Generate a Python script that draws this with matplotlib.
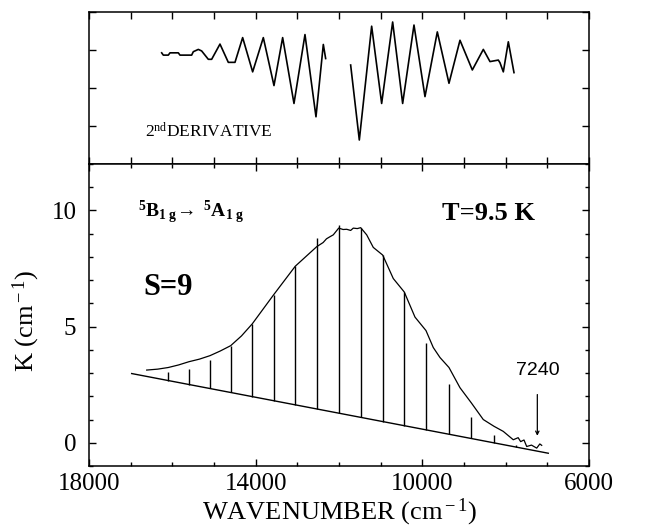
"""Absorption band with vibronic progression and its 2nd derivative."""

import numpy as np
import matplotlib
matplotlib.use("Agg")
import matplotlib.pyplot as plt
from matplotlib.ticker import MultipleLocator, NullFormatter, FixedLocator

# measured band, K in cm^-1
spec_wn = [16615, 16350, 16097, 15850, 15600, 15350, 15096, 14850, 14599, 14340,
           14081, 13577, 13049, 12535, 12380,
           12300, 12216, 12137, 12007, 11900, 11815, 11720, 11657, 11560, 11479,
           11335, 11177, 10951, 10697, 10433, 10176, 9912, 9737, 9576, 9360,
           9096, 8825, 8537, 8280, 8057, 7817, 7700, 7640, 7560, 7495, 7380,
           7255, 7180, 7135]
spec_k = [3.13, 3.17, 3.24, 3.35, 3.49, 3.60, 3.75, 3.95, 4.18, 4.60,
          5.12, 6.35, 7.60, 8.44, 8.62,
          8.78, 8.87, 8.95, 9.24, 9.18, 9.19, 9.14, 9.24, 9.22, 9.26,
          8.95, 8.41, 8.08, 7.07, 6.49, 5.41, 4.83, 4.10, 3.67, 3.24,
          2.37, 1.72, 1.00, 0.71, 0.49, 0.13, 0.22, 0.05, 0.12, -0.16, -0.10,
          -0.23, -0.05, -0.11]

# sloping background line
base_wn = [16975, 6977]
base_k = [2.98, -0.45]

# progression sticks (height above the background)
stick_wn = [16100, 15600, 15100, 14600, 14080, 13570, 13050, 12520, 12010,
            11480, 10950, 10430, 9910, 9360, 8830, 8280, 7740]
stick_h = [0.38, 0.68, 1.23, 2.02, 3.13, 4.54, 5.97, 7.35, 8.10,
           8.14, 7.16, 5.75, 3.76, 2.15, 0.92, 0.32, 0.08]

# 2nd derivative trace (arbitrary units), two pieces
d2_wn_a = [16255, 16216, 16096, 16056, 15856, 15816, 15536, 15496, 15376, 15296,
           15136, 15056, 14856, 14656, 14496, 14312, 14072, 13816, 13560, 13352,
           13080, 12816, 12552, 12376, 12320]
d2_a = [2.92, 2.86, 2.86, 2.92, 2.92, 2.86, 2.86, 2.95, 3.01, 2.97,
        2.75, 2.75, 3.15, 2.67, 2.67, 3.32, 2.42, 3.32, 2.06, 3.32,
        1.59, 3.40, 1.24, 3.14, 2.77]
d2_wn_b = [11720, 11512, 11216, 10976, 10712, 10472, 10200, 9936, 9640, 9360,
           9096, 8800, 8536, 8376, 8176, 8136, 8056, 7936, 7800]
d2_b = [2.60, 0.63, 3.62, 1.59, 3.73, 1.59, 3.65, 1.77, 3.47, 2.12,
        3.25, 2.47, 3.01, 2.69, 2.73, 2.66, 2.42, 3.21, 2.40]

x_labels = [18000, 14000, 10000, 6000]

plt.rcParams['font.family'] = ['Liberation Serif', 'DejaVu Serif']
plt.rcParams['mathtext.fontset'] = 'custom'
plt.rcParams['mathtext.rm'] = 'Liberation Serif'
plt.rcParams['mathtext.it'] = 'Liberation Serif:italic'
plt.rcParams['mathtext.bf'] = 'Liberation Serif:bold'

fig = plt.figure(figsize=(6.65, 5.28), dpi=100)
ax_top = fig.add_axes([0.1338, 0.6894, 0.7519, 0.2884])
ax = fig.add_axes([0.1338, 0.1174, 0.7519, 0.5720])


def style_axes(a):
    for s in a.spines.values():
        s.set_linewidth(1.1)
    a.tick_params(which='both', direction='in', top=True, right=True, width=1.0)
    a.tick_params(which='major', length=5)
    a.tick_params(which='minor', length=3)
    a.set_xlim(18000, 6000)


# top panel
style_axes(ax_top)
ax_top.plot(d2_wn_a, d2_a, color='black', lw=1.2)
ax_top.plot(d2_wn_b, d2_b, color='black', lw=1.2)
ax_top.set_ylim(0, 4)
ax_top.yaxis.set_major_locator(MultipleLocator(1))
ax_top.xaxis.set_major_locator(MultipleLocator(1000))
ax_top.xaxis.set_major_formatter(NullFormatter())
ax_top.yaxis.set_major_formatter(NullFormatter())
ax_top.text(16656, 0.84, r"2$^{\rm nd}$DERIVATIVE", fontsize=12.5, va='center', ha='left')

# bottom panel
style_axes(ax)
ax.plot(spec_wn, spec_k, color='black', lw=0.9)
ax.plot(base_wn, base_k, color='black', lw=1.0)
stick_base = np.interp(stick_wn, base_wn[::-1], base_k[::-1])
ax.vlines(stick_wn, stick_base, stick_base + np.array(stick_h), color='black', lw=1.0)

ax.set_ylim(-1, 12)
ax.xaxis.set_major_locator(FixedLocator(x_labels))
ax.xaxis.set_minor_locator(MultipleLocator(1000))
ax.set_yticks([0, 5, 10])
ax.yaxis.set_minor_locator(MultipleLocator(1))
ax.tick_params(axis='x', which='major', labelsize=18, pad=5)
ax.tick_params(axis='y', which='major', labelsize=18, pad=9)

ax.set_xlabel(r"WAVENUMBER (cm$^{\rm -1}$)", fontsize=19, va='center')
ax.xaxis.set_label_coords(0.5, -0.153)
ax.set_ylabel(r"K (cm$^{\rm -1}$)", fontsize=19)
ax.yaxis.set_label_coords(-0.094, 0.48)

ax.text(16824, 9.9, r"$\mathbf{^5B_{1\ g}\!\rightarrow\ ^5A_{1\ g}}$", fontsize=14,
        va='center', ha='left')
ax.text(9535, 9.86, "T=9.5 K", fontsize=19, fontweight='bold', va='center', ha='left')
ax.text(16704, 6.69, "S=9", fontsize=22, fontweight='bold', va='center', ha='left')
ax.annotate("7240", xy=(7240, 0.3), xytext=(7240, 3.1), fontsize=14,
            family='Liberation Sans', ha='center', va='center',
            arrowprops=dict(arrowstyle='->', lw=0.9, color='black',
                            shrinkA=9, shrinkB=0, mutation_scale=6))

fig.savefig("out.png", dpi=100)
